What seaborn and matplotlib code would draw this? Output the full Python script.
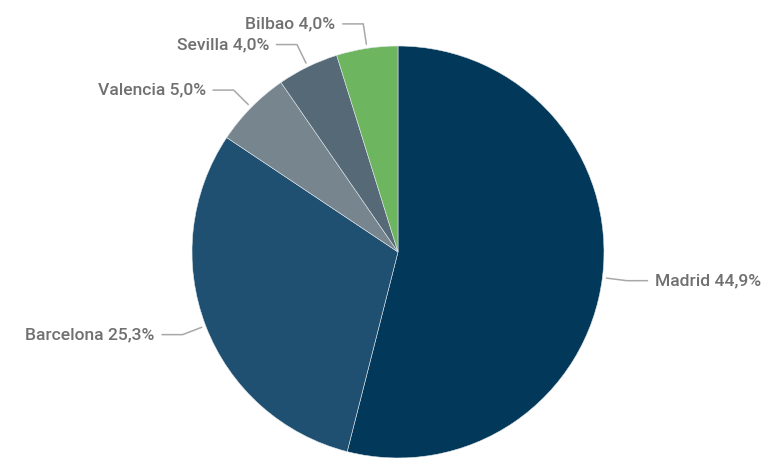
import numpy as np
import matplotlib.pyplot as plt
import seaborn as sns

sns.set_theme(style="white")
plt.rcParams["font.family"] = ["Roboto", "DejaVu Sans"]

# city share of total (labels show the raw figures, pie normalises them)
cities = ["Madrid", "Barcelona", "Valencia", "Sevilla", "Bilbao"]
shares = [44.9, 25.3, 5.0, 4.0, 4.0]
pct_labels = ["44,9%", "25,3%", "5,0%", "4,0%", "4,0%"]
colors = ["#02385A", "#1F4F71", "#77858F", "#566977", "#6DB55F"]

W, H = 765, 458
fig = plt.figure(figsize=(W / 100, H / 100), dpi=100)
# pie centre (398, 252) px from top, radius 206 px
cx, cy, r = 398, H - 252, 206
ax = fig.add_axes([(cx - r) / W, (cy - r) / H, 2 * r / W, 2 * r / H])

wedges, _ = ax.pie(shares, colors=colors, startangle=90, counterclock=False,
                   radius=1.0, wedgeprops={"edgecolor": "#dfe6ea", "linewidth": 0.4})
ax.set_xlim(-1, 1)
ax.set_ylim(-1, 1)
ax.set_aspect("equal")
ax.axis("off")

text_color = "#707070"
line_color = "#a8a8a8"
for w, city, pl in zip(wedges, cities, pct_labels):
    ang = np.deg2rad((w.theta1 + w.theta2) / 2)
    ex, ey = np.cos(ang) * 1.02, np.sin(ang) * 1.02
    kx, ky = np.cos(ang) * 1.12, np.sin(ang) * 1.12
    side = 1 if np.cos(ang) > 0 else -1
    hx = kx + side * 0.1
    ax.plot([ex, kx, hx], [ey, ky, ky], color=line_color, lw=1.1, clip_on=False)
    ax.text(hx + side * 0.035, ky, f"{city} {pl}", ha="left" if side > 0 else "right",
            va="center", fontsize=12.6, color=text_color, fontweight="medium")

fig.savefig("out.png", dpi=100, facecolor="white")
